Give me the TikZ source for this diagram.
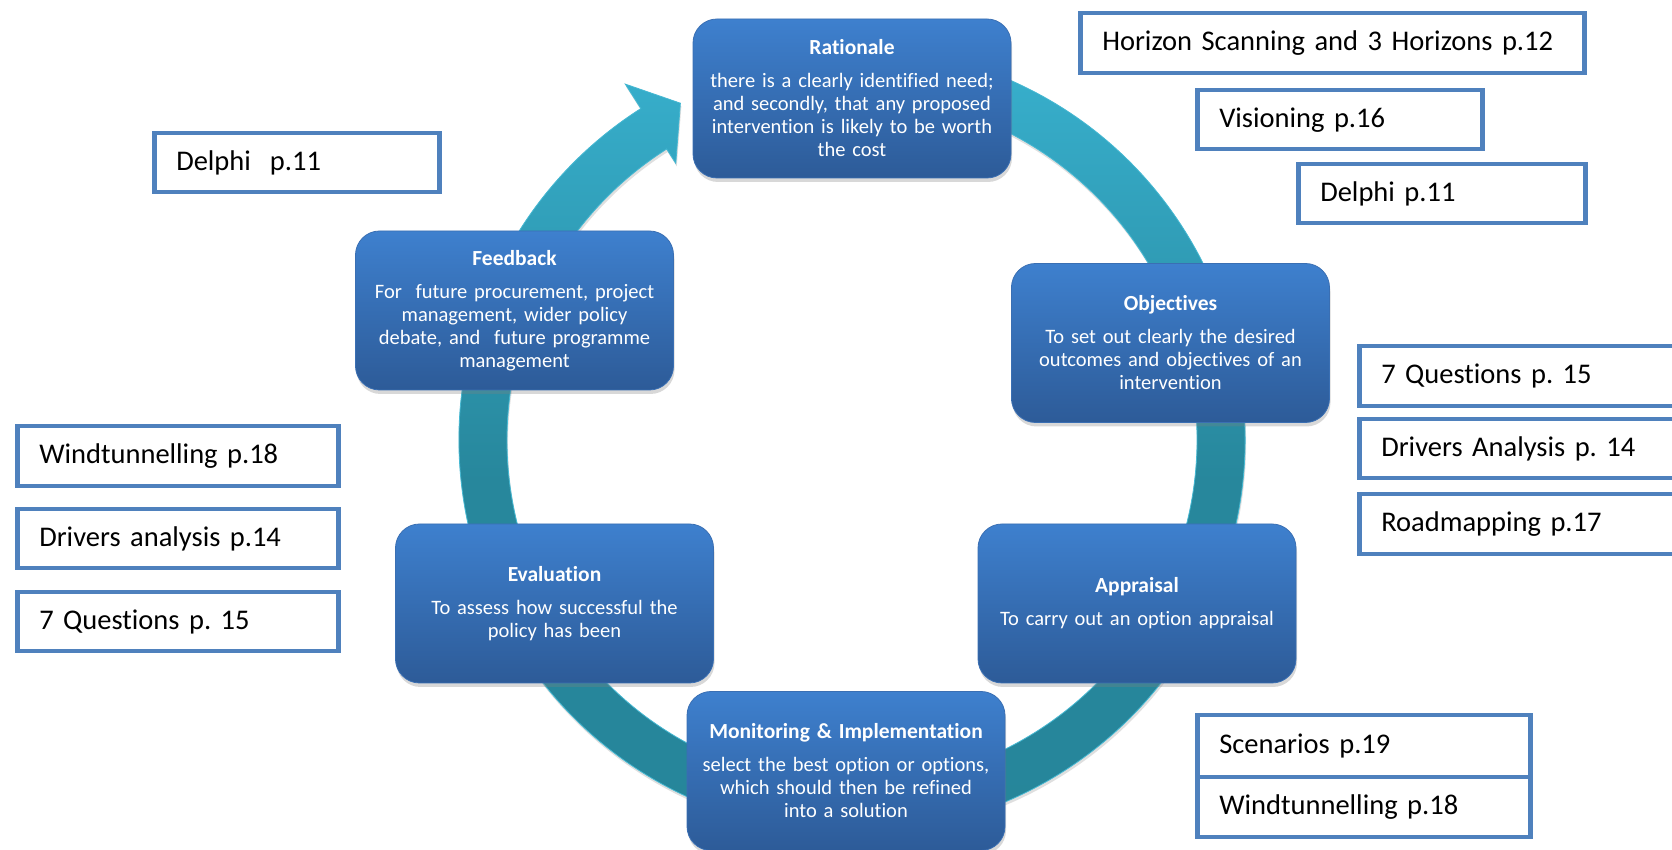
\documentclass[tikz,border=0pt]{standalone}
\usepackage{fontspec}
\setmainfont{Carlito}[Ligatures=NoCommon]
\usetikzlibrary{shadows}
\frenchspacing
\definecolor{boxtop}{HTML}{3E80CE}
\definecolor{boxbot}{HTML}{2D5B98}
\definecolor{boxedge}{HTML}{3A6FB3}
\definecolor{sideedge}{HTML}{4F81BD}
\definecolor{ringtop}{HTML}{37AECB}
\definecolor{ringmid}{HTML}{27879C}
\definecolor{ringbot}{HTML}{26869A}
\definecolor{ringedge}{HTML}{45B8D2}
\newcommand{\ttl}[1]{{\fontsize{21.5}{23}\selectfont\bfseries #1}}
\begin{document}
\begin{tikzpicture}[x=1pt,y=1pt,
  mainbox/.style={rounded corners=24pt, minimum width=318pt, minimum height=159pt,
    text width=300pt, align=center, text=white, inner sep=0pt,
    top color=boxtop, bottom color=boxbot, draw=boxedge, line width=0.8pt,
    drop shadow={opacity=0.3, shadow xshift=1pt, shadow yshift=-4pt},
    font=\fontsize{20.5}{23}\selectfont},
  sidebox/.style={draw=sideedge, line width=4.5pt, fill=white, align=left,
    inner xsep=22pt, inner ysep=0pt, anchor=north west,
    font=\fontsize{28.5}{32}\selectfont},
  ring/.style={top color=ringtop, bottom color=ringbot, middle color=ringmid,
    draw=ringedge, line width=0.8pt,
    drop shadow={opacity=0.25, shadow xshift=1pt, shadow yshift=-3pt}}
]
\useasboundingbox (0,0) rectangle (1672,850);
\clip (0,0) rectangle (1672,850);
\fill[white] (0,0) rectangle (1672,850);

\coordinate (C) at (852,410);
% circular arrow
\path[ring] ([shift={(68:393pt)}]C) arc[start angle=68, end angle=-237.5, radius=393pt]
  -- ([shift={(-237.5:422pt)}]C) -- ([shift={(-243:378pt)}]C)
  -- ([shift={(-237.5:328pt)}]C) -- ([shift={(-237.5:345pt)}]C)
  arc[start angle=-237.5, end angle=68, radius=345pt] -- cycle;

% main boxes
\node[mainbox] (rat) at (852,751.5) {\ttl{Rationale}\\[10pt]there is a clearly identified need;\\and secondly, that any proposed\\intervention is likely to be worth\\the cost};
\node[mainbox] (obj) at (1170.5,507) {\ttl{Objectives}\\[10pt]To set out clearly the desired\\outcomes and objectives of an\\intervention};
\node[mainbox] (app) at (1137,246.5) {\ttl{Appraisal}\\[10pt]To carry out an option appraisal};
\node[mainbox] (mon) at (846,79) {\ttl{Monitoring \& Implementation}\\[10pt]select the best option or options,\\which should then be refined\\into a solution};
\node[mainbox] (eva) at (554.5,246.5) {\ttl{Evaluation}\\[10pt]To assess how successful the\\policy has been};
\node[mainbox] (fee) at (514.5,539.5) {\ttl{Feedback}\\[10pt]For\ \ future procurement, project\\management, wider policy\\debate, and\ \ future programme\\management};

% side boxes
\node[sidebox, text width=460pt, minimum height=60pt] (hs) at (1078,839) {Horizon Scanning and 3 Horizons p.12};
\node[sidebox, text width=241pt, minimum height=59pt] (vis) at (1195,762) {Visioning p.16};
\node[sidebox, text width=243pt, minimum height=59pt] (delr) at (1296,688) {Delphi p.11};
\node[sidebox, text width=241pt, minimum height=59pt] (dell) at (152,719) {Delphi\ \ p.11};
\node[sidebox, text width=292pt, minimum height=60pt] (q7r) at (1357,506) {7 Questions p. 15};
\node[sidebox, text width=292pt, minimum height=59pt] (dar) at (1357,433) {Drivers Analysis p. 14};
\node[sidebox, text width=292pt, minimum height=60pt] (road) at (1357,358) {Roadmapping p.17};
\node[sidebox, text width=277pt, minimum height=60pt] (wtl) at (15,426) {Windtunnelling p.18};
\node[sidebox, text width=277pt, minimum height=59pt] (dal) at (15,343) {Drivers analysis p.14};
\node[sidebox, text width=277pt, minimum height=59pt] (q7l) at (15,260) {7 Questions p. 15};
\node[sidebox, text width=289pt, minimum height=62pt] (scen) at (1195,137) {Scenarios p.19};
\node[sidebox, text width=289pt, minimum height=60pt] (wtr) at (1195,75) {Windtunnelling p.18};
\end{tikzpicture}
\end{document}
